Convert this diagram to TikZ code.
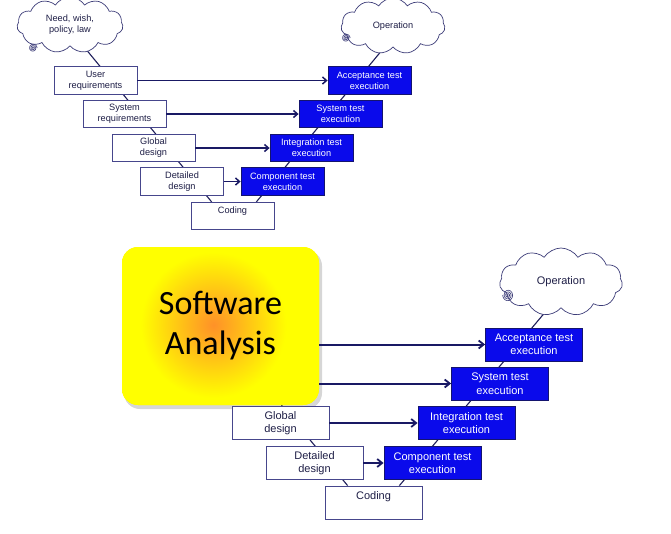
\documentclass[tikz,border=0pt]{standalone}
\usepackage{fontspec}
\setsansfont{Liberation Sans}
\newfontfamily\calib{Carlito}
\usetikzlibrary{shapes.symbols,arrows.meta,backgrounds,calc}
\definecolor{blueF}{RGB}{10,10,235}
\definecolor{navyD}{RGB}{20,20,110}
\definecolor{wBorder}{RGB}{70,70,140}
\definecolor{wText}{RGB}{30,30,70}
\definecolor{arrC}{RGB}{25,25,100}
\definecolor{lineC}{RGB}{30,30,90}
\definecolor{cloudC}{RGB}{60,60,120}
\definecolor{glow}{RGB}{255,145,40}
\pgfdeclareradialshading{glowsh}{\pgfpoint{0bp}{0bp}}{color(0bp)=(glow); color(4bp)=(glow!70!yellow); color(13bp)=(yellow); color(50bp)=(yellow)}
\tikzset{
  smallfont/.style={font=\sffamily\fontsize{9.2}{10.8}\selectfont},
  bigfont/.style={font=\sffamily\fontsize{11}{13.5}\selectfont},
  wbox/.style={smallfont, draw=wBorder, line width=0.8, fill=white, text=wText, align=center,
    minimum width=83, minimum height=27.5, inner sep=0},
  bbox/.style={wbox, draw=navyD, fill=blueF, text=white},
  wboxL/.style={wbox, bigfont, minimum width=97, minimum height=33},
  bboxL/.style={bbox, bigfont, minimum width=97, minimum height=33},
  cloudn/.style={cloud, cloud puffs=11, cloud puff arc=115, cloud ignores aspect, draw=cloudC,
    line width=0.7, fill=white, text=wText, align=center, inner sep=0},
  arr/.style={draw=arrC, line width=1.5, -{Straight Barb[length=4pt,width=7pt,line width=1.5]}},
  arrL/.style={arr, line width=2, -{Straight Barb[length=5pt,width=8pt,line width=1.8]}},
  vline/.style={draw=lineC, line width=1.1},
  spiralc/.style={draw=cloudC, line width=0.6}
}
\begin{document}
\begin{tikzpicture}[x=1pt,y=-1pt]
\useasboundingbox (0,0) rectangle (671,533);

% ---------- top diagram ----------
\node[cloudn, smallfont, minimum width=106, minimum height=56] (need) at (70,25) {Need, wish,\\policy, law};
\node[cloudn, smallfont, minimum width=104, minimum height=56] (op1) at (393,26) {Operation};

\node[wbox] (ureq) at (95.5,80.5) {User\\requirements};
\node[wbox] (sreq) at (124.5,114) {System\\requirements};
\node[wbox] (gdes) at (153.5,148) {Global\\design};
\node[wbox] (ddes) at (182,181.5) {Detailed\\design};
\node[wbox] (cod) at (232.5,216) {Coding\\\phantom{x}};

\node[bbox] (acc) at (369.5,80.5) {Acceptance test\\execution};
\node[bbox] (sys) at (340.5,114) {System test\\execution};
\node[bbox] (int) at (311.5,148) {Integration test\\execution};
\node[bbox] (comp) at (282.5,181.5) {Component test\\execution};

\draw[arr] (ureq) -- (acc);
\draw[arr] (sreq) -- (sys);
\draw[arr] (gdes) -- (int);
\draw[arr] (ddes) -- (comp);

% ---------- bottom diagram ----------
\node[cloudn, bigfont, minimum width=123, minimum height=68] (op2) at (561,282) {Operation};

\fill[black, opacity=0.16, rounded corners=16] (124,250) rectangle (322,409);
\node[draw=none, fill=yellow, rounded corners=16, minimum width=197, minimum height=158, inner sep=0,
  path picture={\shade[shading=glowsh] ($(path picture bounding box.center)+(-7,-1)$) circle (140);},
  font=\calib\fontsize{34}{40}\selectfont, align=center, text=black] (sa) at (220.5,326) {\raisebox{-4pt}{Software}\\\raisebox{-4pt}{Analysis}};

\node[wboxL] (gdes2) at (280.5,423) {Global\\design};
\node[wboxL] (ddes2) at (314.5,463) {Detailed\\design};
\node[wboxL] (cod2) at (373.5,502.5) {Coding\\\phantom{x}};

\node[bboxL] (acc2) at (534,344.5) {Acceptance test\\execution};
\node[bboxL] (sys2) at (500,383.5) {System test\\execution};
\node[bboxL] (int2) at (466.5,423) {Integration test\\execution};
\node[bboxL] (comp2) at (432.5,463) {Component test\\execution};

\draw[arrL] (sa.east |- acc2.west) -- (acc2.west);
\draw[arrL] (sa.east |- sys2.west) -- (sys2.west);
\draw[arrL] (gdes2) -- (int2);
\draw[arrL] (ddes2) -- (comp2);

% ---------- V lines behind ----------
\begin{pgfonlayer}{background}
\draw[vline] ($(need.center)+(-4,0)$) -- ($(cod.north west)+(21,0)$);
\draw[vline] ($(op1.center)+(9,0)$) -- ($(cod.north east)+(-18,0)$);
\draw[vline] ($(sa.south)+(61,0)$) -- ($(cod2.north west)+(23,0)$);
\draw[vline] ($(op2.center)+(9.5,0)$) -- ($(cod2.north east)+(-23,0)$);
\end{pgfonlayer}

% ---------- spirals ----------
\draw[spiralc] plot[domain=0:1080, samples=90, smooth] ({33+0.0038*\x*cos(\x)},{48+0.0038*\x*sin(\x)});
\draw[spiralc] plot[domain=0:1080, samples=90, smooth] ({346+0.0038*\x*cos(\x)},{38+0.0038*\x*sin(\x)});
\draw[spiralc] plot[domain=0:1260, samples=100, smooth] ({508+0.0042*\x*cos(\x)},{295+0.0048*\x*sin(\x)});
\end{tikzpicture}
\end{document}
